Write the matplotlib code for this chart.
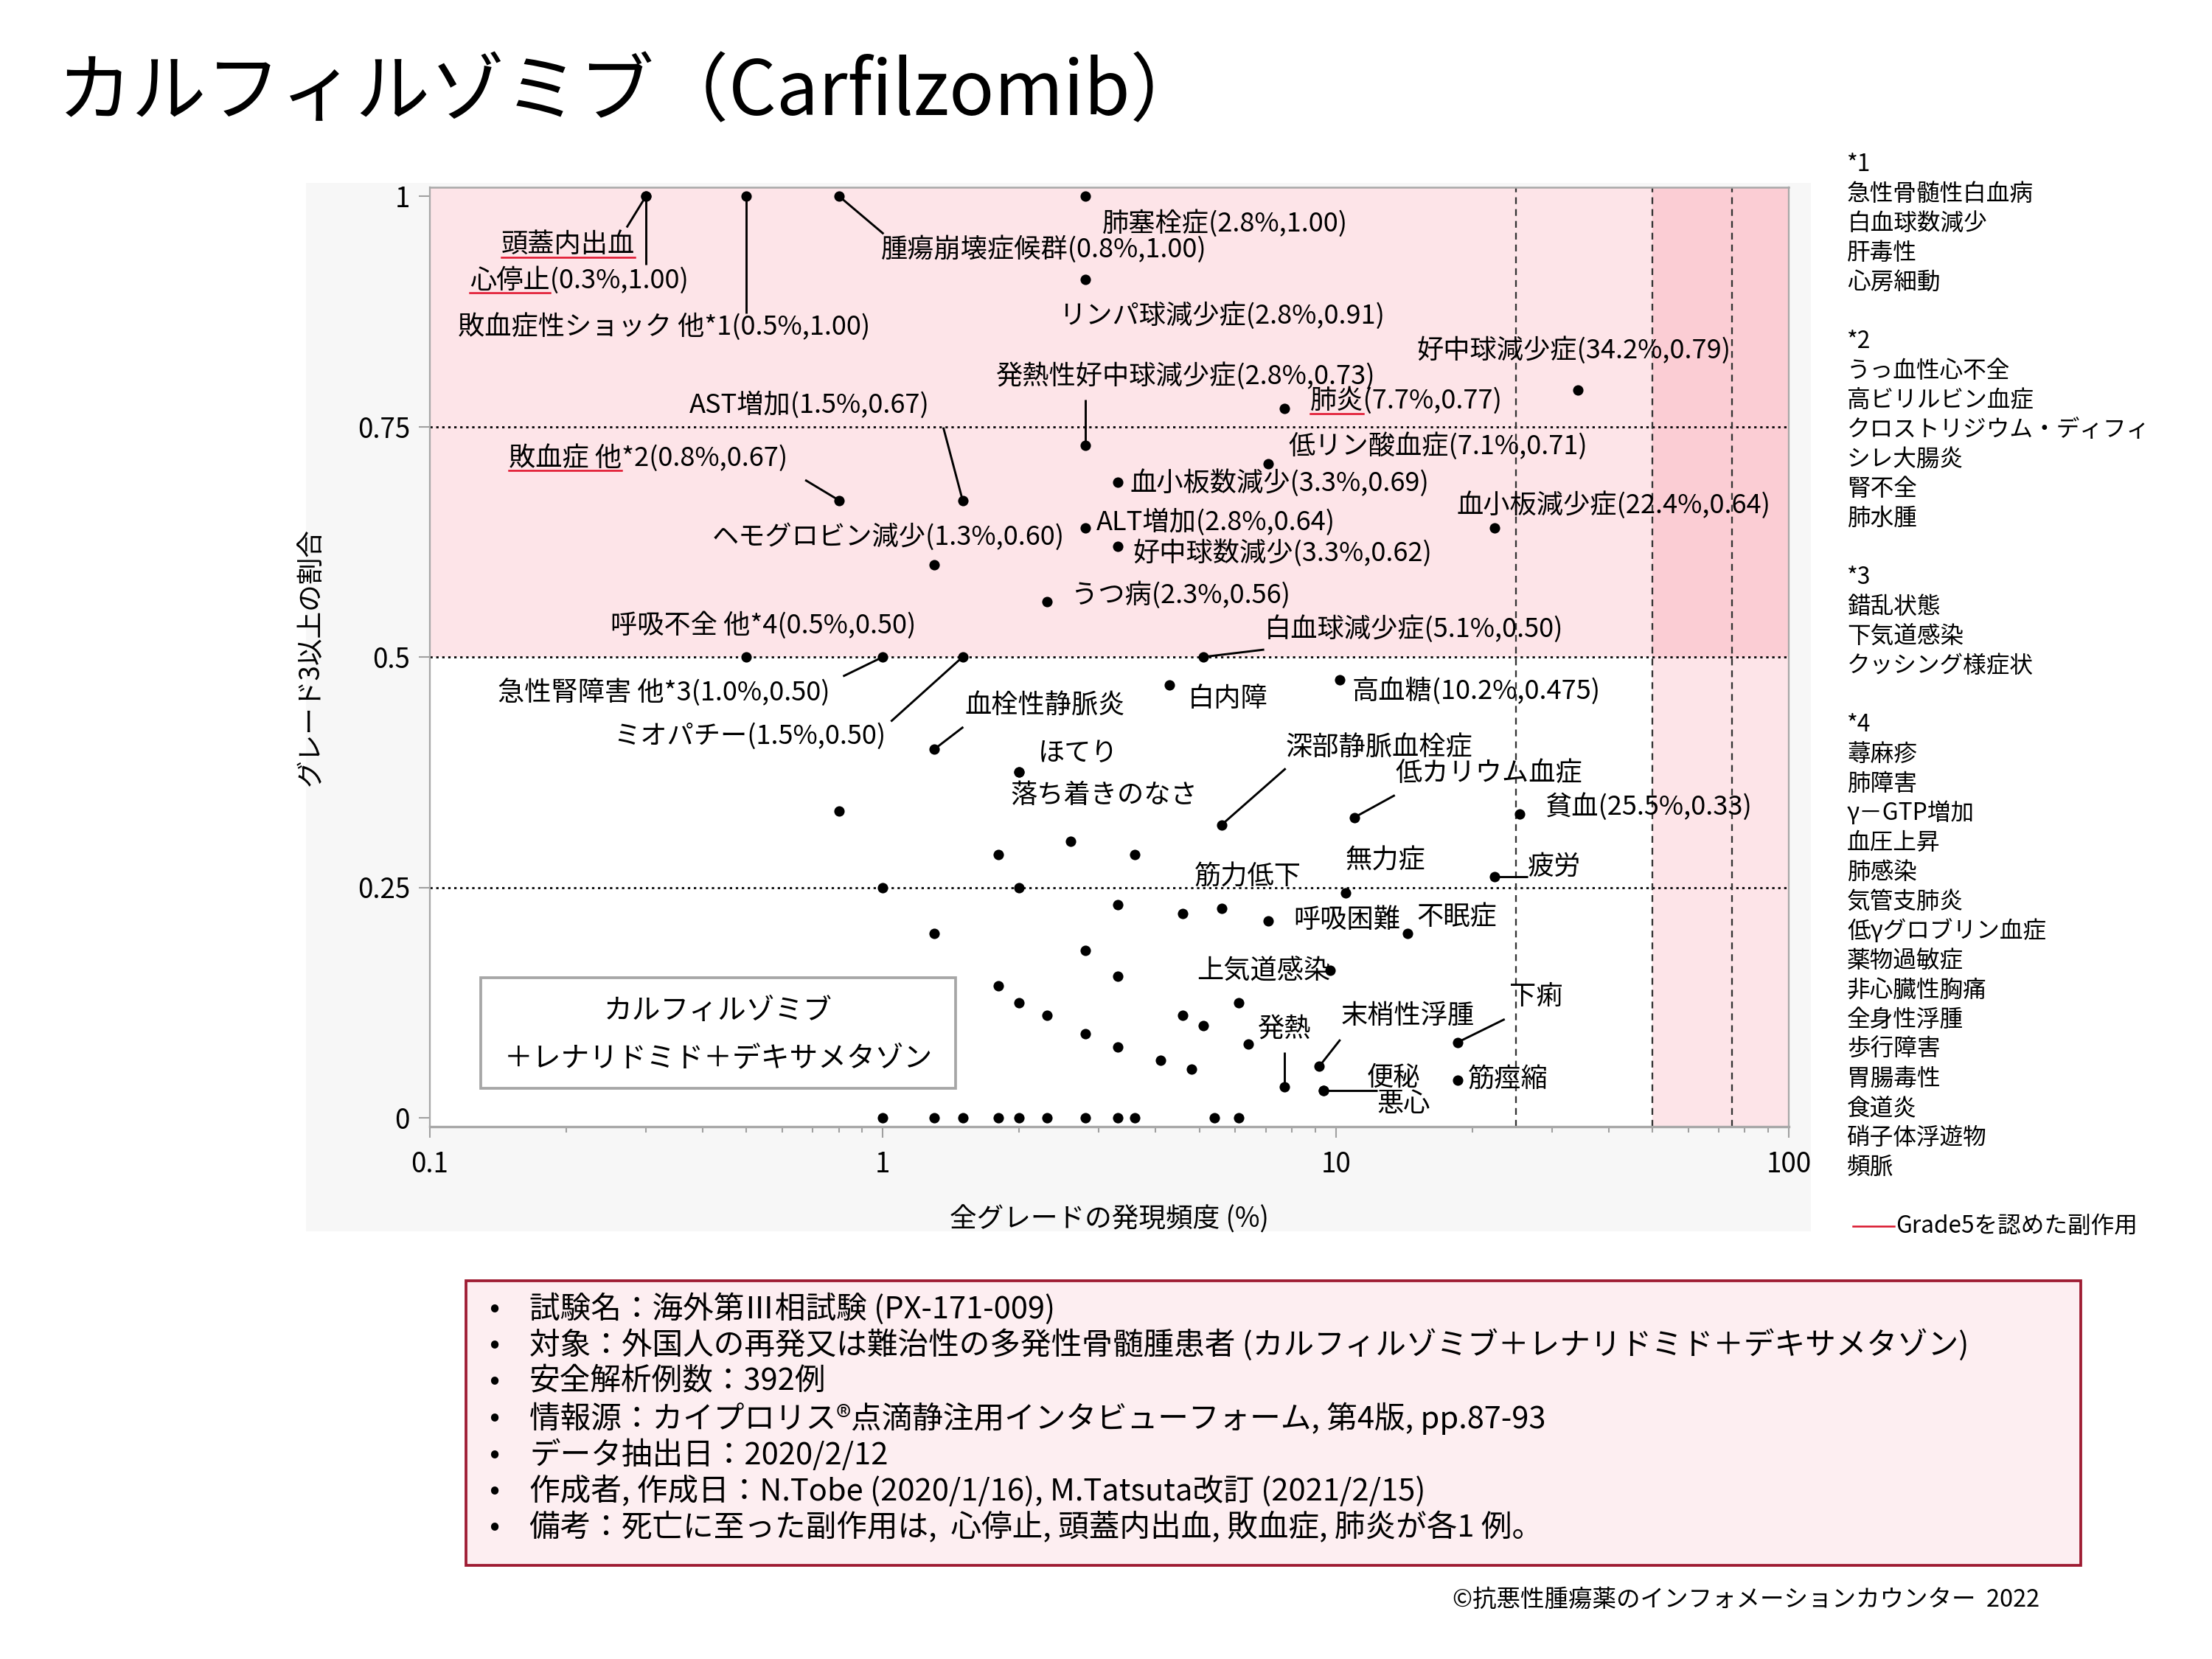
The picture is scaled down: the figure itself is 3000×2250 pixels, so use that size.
import matplotlib
matplotlib.use("Agg")
import matplotlib.pyplot as plt
from matplotlib.patches import Rectangle
from matplotlib.lines import Line2D
from matplotlib.ticker import FixedLocator, NullFormatter

plt.rcParams['font.family'] = ['Noto Sans CJK JP', 'DejaVu Sans']

# ---------------- data ----------------
# labelled adverse events: text, all-grade frequency (%), ratio of grade>=3
label_texts = [
    "頭蓋内出血", "心停止(0.3%,1.00)", "敗血症性ショック 他*1(0.5%,1.00)",
    "腫瘍崩壊症候群(0.8%,1.00)", "肺塞栓症(2.8%,1.00)", "リンパ球減少症(2.8%,0.91)",
    "好中球減少症(34.2%,0.79)", "発熱性好中球減少症(2.8%,0.73)", "肺炎(7.7%,0.77)",
    "AST増加(1.5%,0.67)", "敗血症 他*2(0.8%,0.67)", "低リン酸血症(7.1%,0.71)",
    "血小板数減少(3.3%,0.69)", "血小板減少症(22.4%,0.64)", "ALT増加(2.8%,0.64)",
    "ヘモグロビン減少(1.3%,0.60)", "好中球数減少(3.3%,0.62)", "うつ病(2.3%,0.56)",
    "呼吸不全 他*4(0.5%,0.50)", "白血球減少症(5.1%,0.50)", "急性腎障害 他*3(1.0%,0.50)",
    "ミオパチー(1.5%,0.50)", "白内障", "高血糖(10.2%,0.475)", "血栓性静脈炎",
    "ほてり", "落ち着きのなさ", "深部静脈血栓症", "低カリウム血症", "貧血(25.5%,0.33)",
    "無力症", "疲労", "筋力低下", "呼吸困難", "不眠症", "上気道感染", "発熱",
    "末梢性浮腫", "便秘", "悪心", "下痢", "筋痙縮",
]
label_freq = [0.3, 0.3, 0.5, 0.8, 2.8, 2.8, 34.2, 2.8, 7.7, 1.5, 0.8, 7.1, 3.3, 22.4,
              2.8, 1.3, 3.3, 2.3, 0.5, 5.1, 1.0, 1.5, 4.3, 10.2, 1.3, 2.0, 2.0, 5.6,
              11.0, 25.5, 10.5, 22.4, 5.6, 7.1, 14.4, 9.7, 7.7, 9.2, 9.4, 9.4, 18.6, 18.6]
label_ratio = [1.00, 1.00, 1.00, 1.00, 1.00, 0.91, 0.79, 0.73, 0.77, 0.67, 0.67, 0.71,
               0.69, 0.64, 0.64, 0.60, 0.62, 0.56, 0.50, 0.50, 0.50, 0.50, 0.47, 0.475,
               0.40, 0.375, 0.375, 0.318, 0.326, 0.33, 0.244, 0.262, 0.227, 0.214, 0.20,
               0.16, 0.034, 0.056, 0.03, 0.03, 0.082, 0.041]

# other (unlabelled) adverse events
other_freq = [0.8, 2.6, 1.8, 3.6, 1.0, 2.0, 3.3, 4.6, 1.3, 2.8, 3.3, 1.8, 2.0, 6.1,
              2.3, 4.6, 5.1, 2.8, 6.4, 3.3, 4.1, 4.8,
              1.0, 1.3, 1.5, 1.8, 2.0, 2.3, 2.8, 3.3, 3.6, 5.4, 6.1]
other_ratio = [0.333, 0.30, 0.286, 0.286, 0.25, 0.25, 0.231, 0.222, 0.20, 0.182, 0.154,
               0.143, 0.125, 0.125, 0.111, 0.111, 0.10, 0.091, 0.08, 0.077, 0.0625, 0.053,
               0, 0, 0, 0, 0, 0, 0, 0, 0, 0, 0]

x_ticks = [0.1, 1, 10, 100]
x_ticklabels = ["0.1", "1", "10", "100"]
y_ticks = [0, 0.25, 0.5, 0.75, 1]
y_ticklabels = ["0", "0.25", "0.5", "0.75", "1"]
h_ref_lines = [0.25, 0.5, 0.75]
v_ref_lines = [25, 50, 75]

footnotes = [
    "*1", "急性骨髄性白血病", "白血球数減少", "肝毒性", "心房細動", "",
    "*2", "うっ血性心不全", "高ビリルビン血症", "クロストリジウム・ディフィ", "シレ大腸炎", "腎不全", "肺水腫", "",
    "*3", "錯乱状態", "下気道感染", "クッシング様症状", "",
    "*4", "蕁麻疹", "肺障害", "γ－GTP増加", "血圧上昇", "肺感染", "気管支肺炎", "低γグロブリン血症",
    "薬物過敏症", "非心臓性胸痛", "全身性浮腫", "歩行障害", "胃腸毒性", "食道炎", "硝子体浮遊物", "頻脈",
]
info_lines = [
    "試験名：海外第Ⅲ相試験 (PX-171-009)",
    "対象：外国人の再発又は難治性の多発性骨髄腫患者 (カルフィルゾミブ＋レナリドミド＋デキサメタゾン)",
    "安全解析例数：392例",
    "情報源：カイプロリス®点滴静注用インタビューフォーム, 第4版, pp.87-93",
    "データ抽出日：2020/2/12",
    "作成者, 作成日：N.Tobe (2020/1/16), M.Tatsuta改訂 (2021/2/15)",
    "備考：死亡に至った副作用は,  心停止, 頭蓋内出血, 敗血症, 肺炎が各1 例。",
]

# ---------------- layout (label anchor, leader end, underlined prefix) ----------------
label_layout = [
    ((0.1439, 0.947), (0.272, 0.966), "頭蓋内出血"),
    ((0.1224, 0.909), (0.30, 0.926), "心停止"),
    ((0.1153, 0.858), (0.50, 0.873), None),
    ((0.992, 0.942), (1.004, 0.959), None),
    ((3.045, 0.970), None, None),
    ((2.449, 0.870), None, None),
    ((15.1, 0.833), None, None),
    ((1.78, 0.805), (2.8, 0.779), None),
    ((8.77, 0.778), None, "肺炎"),
    ((0.3745, 0.773), (1.36, 0.749), None),
    ((0.1494, 0.716), (0.674, 0.692), "敗血症 他"),
    ((7.866, 0.7288), None, None),
    ((3.512, 0.6888), None, None),
    ((18.5, 0.6648), None, None),
    ((2.956, 0.646), None, None),
    ((0.4205, 0.6304), None, None),
    ((3.565, 0.6128), None, None),
    ((2.612, 0.567), None, None),
    ((0.2506, 0.5344), None, None),
    ((6.95, 0.5304), (6.95, 0.508), None),
    ((0.1412, 0.4616), (0.817, 0.479), None),
    ((0.2544, 0.4139), (1.042, 0.430), None),
    ((4.706, 0.4544), None, None),
    ((10.86, 0.4632), None, None),
    ((1.516, 0.4472), (1.505, 0.424), None),
    ((2.198, 0.3952), None, None),
    ((1.913, 0.3496), None, None),
    ((7.75, 0.4016), (7.75, 0.379), None),
    ((13.55, 0.3739), (13.5, 0.350), None),
    ((29.0, 0.3376), None, None),
    ((10.5, 0.2788), None, None),
    ((26.5, 0.272), (26.5, 0.262), None),
    ((4.867, 0.2608), None, None),
    ((8.075, 0.2144), None, None),
    ((15.1, 0.2176), None, None),
    ((4.94, 0.1588), None, None),
    ((6.72, 0.096), (7.7, 0.0712), None),
    ((10.27, 0.1104), (10.23, 0.0848), None),
    ((11.7, 0.0432), (12.34, 0.03), None),
    ((12.34, 0.0152), None, None),
    ((24.2, 0.1312), (23.6, 0.107), None),
    ((19.56, 0.0416), None, None),
]

W, H = 3000, 2250
fig = plt.figure(figsize=(10, 7.5), dpi=300)
fig.patch.set_facecolor("white")

# gray panel behind the graph
fig.add_artist(Rectangle((415 / W, 1 - 1670 / H), (2456 - 415) / W, (1670 - 248) / H,
                         transform=fig.transFigure, facecolor="#f7f7f7", edgecolor="none", zorder=0))

ax = fig.add_axes([583 / W, 1 - 1528 / H, (2426 - 583) / W, (1528 - 254) / H])
ax.set_zorder(1)
ax.set_facecolor("white")
ax.set_xscale("log")
ax.set_xlim(0.1, 100)
ax.set_ylim(-0.0096, 1.0096)

pink = (242 / 255, 75 / 255, 102 / 255)
ax.axhspan(0.5, 1.02, color=pink, alpha=0.15, lw=0, zorder=0)
ax.axvspan(50, 100, color=pink, alpha=0.15, lw=0, zorder=0)

for v in h_ref_lines:
    ax.axhline(v, color="black", lw=0.65, ls=(0, (1.2, 1.8)), zorder=1)
for v in v_ref_lines:
    ax.axvline(v, color="#333333", lw=0.55, ls=(0, (4, 3)), zorder=1)

ax.scatter(other_freq, other_ratio, s=11.5, color="black", linewidths=0, zorder=4)
ax.scatter(label_freq, label_ratio, s=11.5, color="black", linewidths=0, zorder=4)

LFS = 8.7
label_objs = []
for txt, fx, fy, (pos, lead, under) in zip(label_texts, label_freq, label_ratio, label_layout):
    if lead is not None:
        ax.plot([fx, lead[0]], [fy, lead[1]], color="black", lw=0.7, zorder=3,
                solid_capstyle="butt")
    t = ax.text(pos[0], pos[1], txt, fontsize=LFS, ha="left", va="center", zorder=5)
    p = None
    if under is not None:
        p = ax.text(pos[0], pos[1], under, fontsize=LFS, ha="left", va="center",
                    color="none", zorder=5)
    label_objs.append((t, p))

# ticks / axes styling
ax.xaxis.set_major_locator(FixedLocator(x_ticks))
ax.set_xticklabels(x_ticklabels)
ax.xaxis.set_minor_locator(FixedLocator([m * d for d in (0.1, 1, 10) for m in range(2, 10)]))
ax.xaxis.set_minor_formatter(NullFormatter())
ax.yaxis.set_major_locator(FixedLocator(y_ticks))
ax.set_yticklabels(y_ticklabels)
ax.tick_params(axis="both", which="major", length=3.7, width=0.5, color="#a0a0a0",
               labelsize=8.8, labelcolor="black")
ax.tick_params(axis="x", which="major", pad=4)
ax.tick_params(axis="y", which="major", pad=2.8)
ax.tick_params(axis="x", which="minor", length=2.0, width=0.5, color="#a0a0a0")
for side, spine in ax.spines.items():
    spine.set_color("#a8a8a8")
    spine.set_linewidth(0.55)
ax.spines["bottom"].set_linewidth(0.8)
ax.spines["top"].set_linewidth(0.6)

ax.set_xlabel("全グレードの発現頻度 (%)", fontsize=8.8)
ax.set_ylabel("グレード3以上の割合", fontsize=8.8)
ax.xaxis.set_label_coords(0.5, (1528 - 1635) / 1274)
ax.yaxis.set_label_coords((441 - 583) / 1843, 0.5)

# inset regimen box
ax.add_patch(Rectangle((0.0374, 0.0408), 0.3496, 0.1178, transform=ax.transAxes,
                       facecolor="white", edgecolor="#a6a6a6", lw=0.9, zorder=6))
ax.text(0.2122, 0.1232, "カルフィルゾミブ", transform=ax.transAxes, fontsize=9.3,
        ha="center", va="center", zorder=7)
ax.text(0.2122, 0.0730, "＋レナリドミド＋デキサメタゾン", transform=ax.transAxes, fontsize=9.3,
        ha="center", va="center", zorder=7)

# title
fig.text(78 / W, 1 - 127 / H, "カルフィルゾミブ（Carfilzomib）", fontsize=24.3,
         ha="left", va="center")

# footnotes
for i, line in enumerate(footnotes):
    if line:
        fig.text(2505 / W, 1 - (223 + 40 * i) / H, line, fontsize=7.6, ha="left", va="center")
fig.add_artist(Line2D([2513 / W, 2569 / W], [1 - 1663 / H, 1 - 1663 / H],
                      transform=fig.transFigure, color="#d9142b", lw=0.6))
fig.text(2571 / W, 1 - 1663 / H, "Grade5を認めた副作用", fontsize=7.6, ha="left", va="center")

# info box
fig.add_artist(Rectangle((632 / W, 1 - 2123 / H), (2822 - 632) / W, (2123 - 1737) / H,
                         transform=fig.transFigure, facecolor="#fdeef1",
                         edgecolor="#9e1b32", lw=0.9, zorder=1))
for i, line in enumerate(info_lines):
    yy = 1 - (1775 + 49.5 * i) / H
    fig.text(670 / W, yy, "•", fontsize=10, ha="center", va="center", zorder=2)
    fig.text(718 / W, yy, line, fontsize=10, ha="left", va="center", zorder=2)

fig.text(2766 / W, 1 - 2170 / H, "©抗悪性腫瘍薬のインフォメーションカウンター  2022",
         fontsize=7.8, ha="right", va="center")

# red underlines for Grade 5 events
fig.canvas.draw()
renderer = fig.canvas.get_renderer()
for t, p in label_objs:
    if p is None:
        continue
    bb_full = t.get_window_extent(renderer)
    bb_pre = p.get_window_extent(renderer)
    p.remove()
    yc = (bb_full.y0 + bb_full.y1) / 2 - 17
    fig.add_artist(Line2D([bb_pre.x0 / W, bb_pre.x1 / W], [yc / H, yc / H],
                          transform=fig.transFigure, color="#e0102a", lw=0.6, zorder=10))

fig.savefig("out.png", dpi=300)
